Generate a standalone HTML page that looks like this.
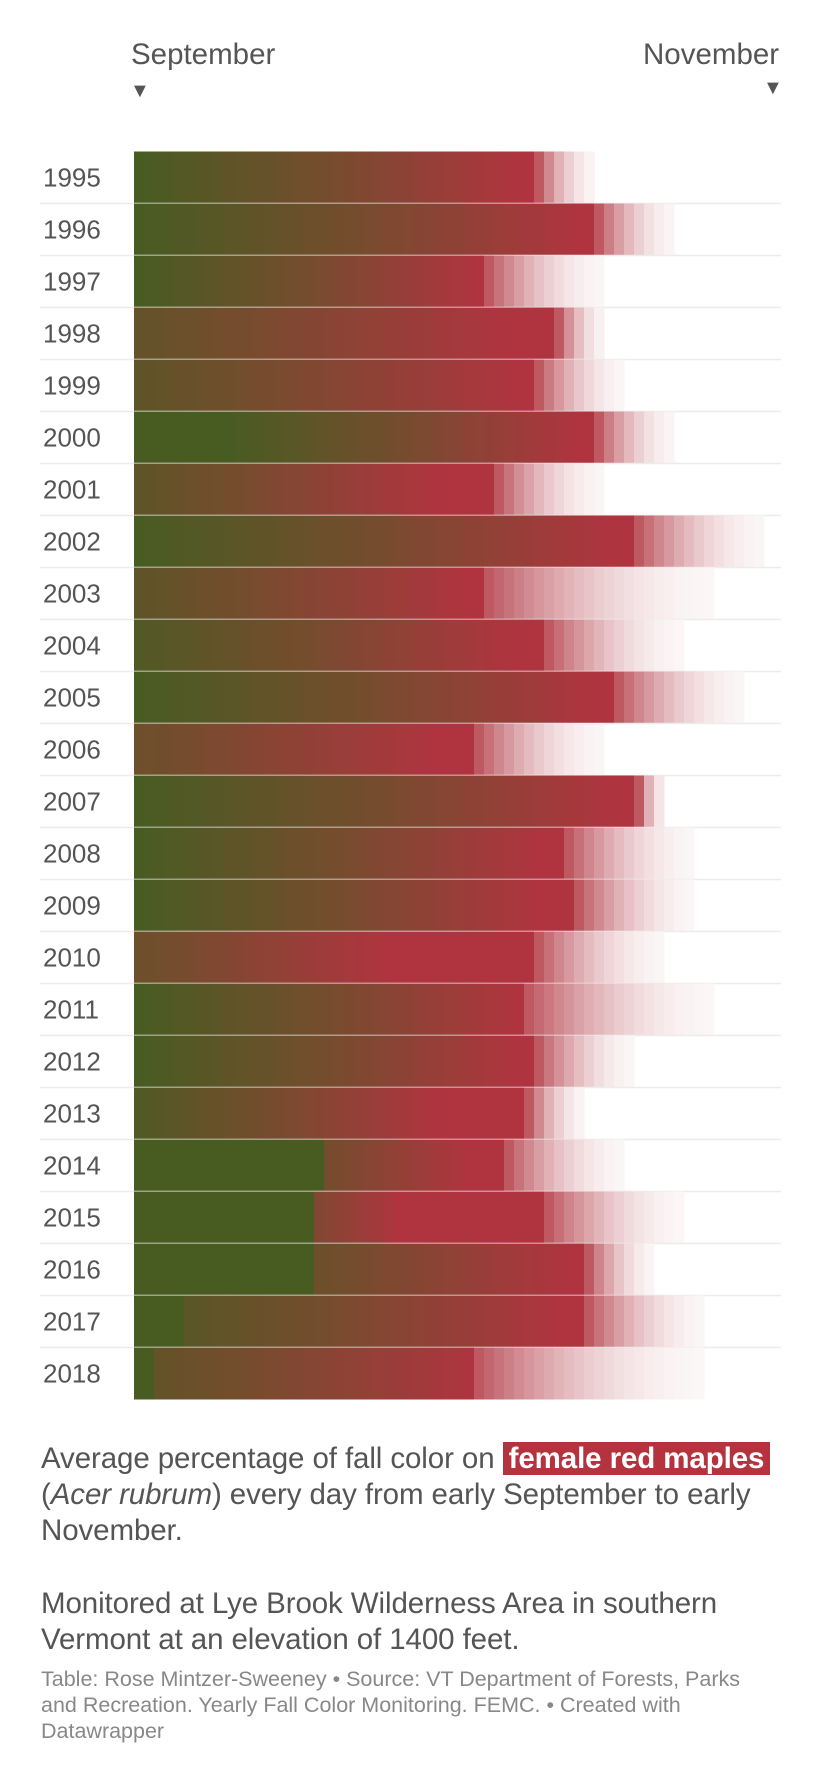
<!DOCTYPE html>
<html><head><meta charset="utf-8">
<style>
body{margin:0;background:#fff;width:820px;height:1782px;overflow:hidden;font-family:"Liberation Sans",sans-serif;color:#555;}
.abs{position:absolute;}
.p{position:absolute;left:41px;font-size:29.5px;line-height:36px;color:#555;white-space:nowrap;letter-spacing:-0.1px;}
.hl{background:#b5323f;color:#fff;font-weight:bold;padding:0 6px;}
.foot{position:absolute;left:41px;top:1666px;font-size:21.5px;line-height:26px;color:#888;white-space:nowrap;}
</style></head>
<body>
<div class="abs" style="left:131px;top:38px;font-size:29.5px;color:#555">September</div>
<div class="abs" style="left:643px;top:38px;font-size:29.5px;color:#555">November</div>
<div class="abs" style="left:130px;top:80px;font-size:20px;color:#555">▼</div>
<div class="abs" style="left:763px;top:77px;font-size:20px;color:#555">▼</div>
<svg id="chart" class="abs" style="left:0;top:0" width="820" height="1420"></svg>
<div class="p" style="top:1441px">Average percentage of fall color on <span class="hl">female red maples</span><br>(<i>Acer rubrum</i>) every day from early September to early<br>November.</div>
<div class="p" style="top:1586px">Monitored at Lye Brook Wilderness Area in southern<br>Vermont at an elevation of 1400 feet.</div>
<div class="foot">Table: Rose Mintzer-Sweeney • Source: VT Department of Forests, Parks<br>and Recreation. Yearly Fall Color Monitoring. FEMC. • Created with<br>Datawrapper</div>
<script>
const years=[1995,1996,1997,1998,1999,2000,2001,2002,2003,2004,2005,2006,2007,2008,2009,2010,2011,2012,2013,2014,2015,2016,2017,2018];
const greenUntil=[0,0,0,0,0,9,0,0,0,0,0,0,0,0,0,0,0,0,0,19,18,18,5,2];
const startVal=[0,0,0,30,25,0,25,0,25,10,0,40,0,0,0,40,0,0,10,50,60,40,20,30];
const peakDay=[38,44,34,37,38,44,30,48,33,38,46,30,48,40,40,25,38,38,30,33,26,43,42,34];
const fadeStart=[40,46,35,42,40,46,36,50,35,41,48,34,50,43,44,40,39,40,39,37,41,45,45,34];
const fadeEnd=[46,54,47,47,49,54,47,63,58,55,61,47,53,56,56,53,58,50,45,49,55,52,57,57];
const NS='http://www.w3.org/2000/svg';
const svg=document.getElementById('chart');
const x0=134,cellW=10,y0=151.5,rowH=52;
const G=[72,92,34],B=[118,76,46],R=[176,52,64];
function mix(a,b,t){return a.map((v,i)=>v+(b[i]-v)*t);}
function colorFor(v){return v<0.5?mix(G,B,v/0.5):mix(B,R,(v-0.5)/0.5);}
function xScale(d){return x0+d*cellW;}
function yScale(i){return y0+i*rowH;}
years.forEach((yr,i)=>{
  const y=yScale(i);
  if(i>0){const l=document.createElementNS(NS,'line');
    l.setAttribute('x1',40);l.setAttribute('x2',781);l.setAttribute('y1',y);l.setAttribute('y2',y);
    l.setAttribute('stroke','#ececec');l.setAttribute('stroke-width','1.5');
    
    
    svg.appendChild(l);}
  const t=document.createElementNS(NS,'text');
  t.setAttribute('x',43);t.setAttribute('y',y+rowH/2+9);
  t.setAttribute('font-size','26');t.setAttribute('fill','#555');
  t.setAttribute('font-family','Liberation Sans, sans-serif');
  t.textContent=yr;
  
  
  svg.appendChild(t);
  for(let d=0;d<fadeEnd[i];d++){
    let v,a=1;
    if(d<greenUntil[i]) v=0;
    else{
      const s=startVal[i]/100,span=Math.max(1,peakDay[i]-greenUntil[i]);
      v=Math.min(1,s+(1-s)*(d-greenUntil[i])/span);
    }
    if(d>=fadeStart[i]){
      const n=fadeEnd[i]-fadeStart[i];
      const f=1-(d-fadeStart[i])/n;
      a=0.78*f*f+0.04;
    }
    let c=colorFor(v);
    c=mix([255,255,255],c,a);
    const r=document.createElementNS(NS,'rect');
    r.setAttribute('x',xScale(d));r.setAttribute('y',y);
    r.setAttribute('width',cellW+0.5);r.setAttribute('height',rowH);
    r.setAttribute('fill','rgb('+c.map(Math.round).join(',')+')');
    
    
    svg.appendChild(r);
  }
});
</script>
</body></html>
